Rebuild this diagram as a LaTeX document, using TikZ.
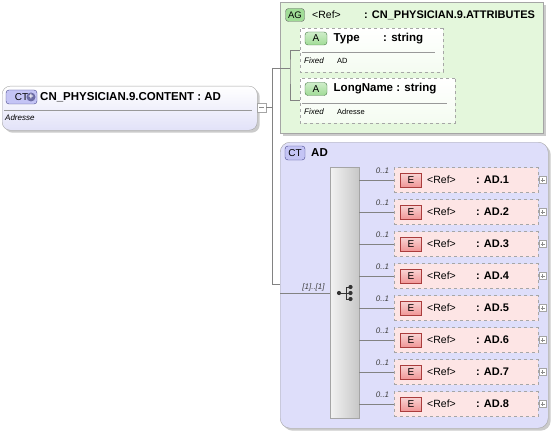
\documentclass[tikz,border=0pt]{standalone}
\usepackage{fontspec}
\setmainfont{Liberation Sans}
\usetikzlibrary{shapes.misc,shadows}

\definecolor{edge}{RGB}{165,165,165}
\definecolor{wirecol}{RGB}{130,130,130}
\definecolor{mainlow}{RGB}{226,226,248}
\definecolor{agfill}{RGB}{228,247,220}
\definecolor{ctfill}{RGB}{222,222,250}
\definecolor{elfill}{RGB}{253,229,229}
\definecolor{ctborder}{RGB}{70,70,140}
\definecolor{ctbadgefill}{RGB}{196,196,245}
\definecolor{greenborder}{RGB}{70,120,70}
\definecolor{greenbadge}{RGB}{160,220,150}
\definecolor{redborder}{RGB}{170,60,60}
\definecolor{redbadge}{RGB}{240,150,150}

\begin{document}
\begin{tikzpicture}[x=1pt,y=-1pt,
  wire/.style={draw=wirecol,line width=0.6pt},
  sepline/.style={draw=black!40,line width=0.5pt},
  boxshadow/.style={drop shadow={shadow xshift=2.5pt,shadow yshift=-2.5pt,fill=black!45,opacity=0.45}},
  ctbox/.style={boxshadow,draw=edge,rounded corners=8pt,top color=white,bottom color=mainlow,
    minimum width=255pt,minimum height=44pt,anchor=north west,inner sep=0},
  agbox/.style={boxshadow,draw=edge,fill=agfill,minimum width=263pt,minimum height=131pt,
    anchor=north west,inner sep=0},
  cttypebox/.style={boxshadow,draw=edge,rounded corners=10pt,fill=ctfill,minimum width=268pt,
    minimum height=286pt,anchor=north west,inner sep=0},
  attrbox/.style={draw=black!35,dashed,top color=white,bottom color=agfill!40,shape=chamfered rectangle,
    chamfered rectangle corners={north west,south west},chamfered rectangle xsep=4pt,
    anchor=north west,inner sep=0},
  elbox/.style={draw=black!35,dashed,fill=elfill,minimum width=144pt,minimum height=25pt,inner sep=0},
  seqbar/.style={draw=edge,left color=black!5,right color=black!22,minimum width=29pt,
    minimum height=251pt,anchor=north west,inner sep=0},
  ctmark/.style={draw=ctborder,fill=ctbadgefill,rounded corners=3pt,minimum height=14pt,
    minimum width=20pt,inner sep=1pt,font=\fontsize{10}{11}\selectfont},
  agmark/.style={draw=black!60,fill=greenbadge,rounded corners=3pt,minimum height=13pt,
    minimum width=19pt,inner sep=1pt,font=\fontsize{9.5}{10}\selectfont},
  amark/.style={draw=greenborder,top color=greenbadge!50,bottom color=greenbadge,rounded corners=3pt,
    minimum height=13pt,minimum width=22pt,inner sep=1pt,font=\fontsize{10}{11}\selectfont},
  emark/.style={draw=redborder,top color=redbadge!40,bottom color=redbadge,minimum height=14pt,
    minimum width=21pt,inner sep=1pt,font=\fontsize{10}{11}\selectfont},
  headtext/.style={inner sep=0,anchor=west,font=\fontsize{11.5}{13}\selectfont\bfseries},
  reftext/.style={inner sep=0,anchor=west,font=\fontsize{10.5}{12}\selectfont},
  note/.style={inner sep=0,anchor=west,font=\fontsize{8}{10}\selectfont\itshape},
  valtext/.style={inner sep=0,anchor=west,font=\fontsize{7.5}{9}\selectfont},
  occtext/.style={inner sep=0,font=\fontsize{8}{10}\selectfont\itshape,text=black!75},
  togglebox/.style={draw=edge,fill=white,minimum size=7pt,inner sep=0},
  plusbox/.style={togglebox,path picture={\draw[black!45,line width=0.5pt]
    ([xshift=1.5pt]path picture bounding box.west) -- ([xshift=-1.5pt]path picture bounding box.east)
    ([yshift=-1.5pt]path picture bounding box.north) -- ([yshift=1.5pt]path picture bounding box.south);}},
  minusbox/.style={togglebox,minimum size=9pt,path picture={\draw[black!45,line width=0.5pt]
    ([xshift=2pt]path picture bounding box.west) -- ([xshift=-2pt]path picture bounding box.east);}}]
\useasboundingbox (0,0) rectangle (556,433);

% main complex type
\node[ctbox] (content) at (2,86) {};
\node[ctmark,minimum width=31pt] (ctmain) at (21.5,97) {CT\hspace{10pt}};
\node[circle,fill=ctborder!80,minimum size=9pt,inner sep=0,text=white,
  font=\fontsize{9}{9}\selectfont\bfseries] (ctplus) at (31,97) {+};
\node[headtext] (ctname) at (40,97) {CN\_PHYSICIAN.9.CONTENT : AD};
\draw[sepline] (4,110) -- (252,110);
\node[note] (ctdoc) at (5,118) {Adresse};
\node[minusbox] (fold) at (261.5,107.5) {};
\coordinate (trunk) at (272,107.5);
\coordinate (agjoin) at (290,68);
\draw[wire] (fold) -- (trunk);

% attribute group
\node[agbox] (attrs) at (280,2) {};
\node[agmark] (agbadge) at (295,15) {AG};
\node[reftext] at (312,15) {<Ref>};
\node[headtext,font=\fontsize{11}{13}\selectfont\bfseries] (agname) at (364,15) {: CN\_PHYSICIAN.9.ATTRIBUTES};

\node[attrbox,minimum width=143pt,minimum height=44pt] (type) at (300,28) {};
\node[amark] at (316,38.5) {A};
\node[headtext] at (333.5,38.5) {Type};
\node[headtext] at (383,38.5) {: string};
\draw[sepline] (302,52) -- (435,52);
\node[note] at (304,61) {Fixed};
\node[valtext] at (337,61) {AD};

\node[attrbox,minimum width=155pt,minimum height=45pt] (longname) at (300,78) {};
\node[amark] at (316,89) {A};
\node[headtext] at (333.5,89) {LongName : string};
\draw[sepline] (302,103.5) -- (447,103.5);
\node[note] at (304,112) {Fixed};
\node[valtext] at (337,112) {Adresse};

\draw[wire] (type.west) -| (agjoin) |- (longname.west);
\draw[wire] (trunk |- agjoin) -- (agjoin);

% content model AD
\node[cttypebox] (ctad) at (280,142) {};
\node[ctmark] (adbadge) at (295,153) {CT};
\node[headtext] (adname) at (311,153) {AD};
\node[seqbar] (seq) at (330,167) {};
\draw[wire] (trunk |- agjoin) -- (trunk |- 0,284) -- (ctad.west |- 0,284);
\draw[wire] (ctad.west |- 0,293) -- (seq.west |- 0,293);
\node[occtext] (seqocc) at (313.5,287) {[1]..[1]};

% sequence symbol
\fill[black!80] (339,293) circle (2.1);
\draw[black!80,line width=0.9pt] (339,293) -- (346,293) (346,287) -- (346,299);
\foreach \sy in {287,293,299}{
  \draw[black!80,line width=0.9pt] (346,\sy) -- (350.5,\sy);
  \fill[black!80] (350.5,\sy) circle (2.1);
}

\foreach \i in {1,...,8}{
  \pgfmathsetmacro\ey{180+32*(\i-1)}
  \node[elbox,anchor=west] (e\i) at (394,\ey) {};
  \node[emark] (eb\i) at (411,\ey) {E};
  \node[reftext] at (427,\ey) {<Ref>};
  \node[headtext,font=\fontsize{11}{12}\selectfont\bfseries] at (476,\ey) {: AD.\i};
  \node[plusbox] (ep\i) at (542.5,\ey) {};
  \draw[wire] (seq.east |- e\i.west) -- (e\i.west);
  \node[occtext] at (382.5,\ey-9) {0..1};
}
\end{tikzpicture}
\end{document}
